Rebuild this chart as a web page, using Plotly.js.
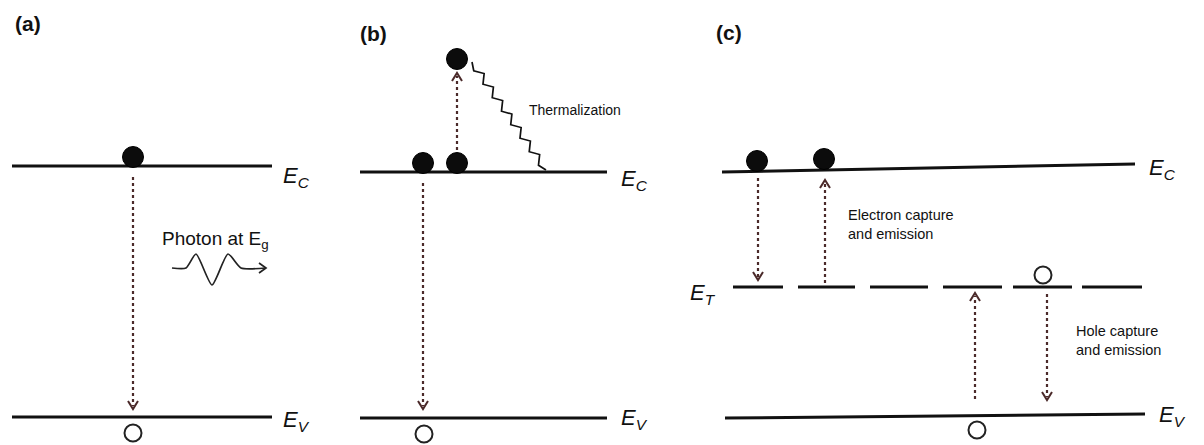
<!DOCTYPE html>
<html>
<head>
<meta charset="utf-8">
<script src="https://cdn.plot.ly/plotly-3.0.1.min.js"></script>
<style>html,body{margin:0;padding:0;background:#fff;}#plot{width:1204px;height:445px;}</style>
</head>
<body>
<div id="plot"></div>
<script>
// ---- Data (diagram coordinates, pixel-like units) ----
// Energy levels: conduction (Ec) and valence (Ev) bands for panels a, b, c
const panelNames = ["(a)", "(b)", "(c)"];
const panelLabelX = [28, 373, 729];
const panelLabelY = [23, 33, 32];

const ecX0 = [12, 360, 722];
const ecX1 = [272, 607, 1135];
const ecY0 = [166, 172, 172];
const ecY1 = [166, 172, 164];

const evX0 = [12, 360, 725];
const evX1 = [272, 607, 1145];
const evY0 = [417, 418, 418];
const evY1 = [417, 418, 414];

// Trap level E_T (panel c), dashed segments
const etX0 = [733, 798, 870, 943, 1013, 1082];
const etX1 = [783, 855, 928, 1002, 1072, 1142];
const etY = 287;

// Electrons (filled) and holes (open)
const electronX = [133, 423, 457, 457, 757, 824];
const electronY = [157, 163, 163, 59, 161, 159];
const holeX = [133, 424, 977, 1043];
const holeY = [433, 434, 430, 275];

// Dotted transition arrows: x, start y, tip y
const arrowX = [133, 423, 457, 758, 825, 975, 1047];
const arrowY0 = [177, 183, 150, 178, 283, 399, 294];
const arrowY1 = [409, 409, 73, 280, 180, 293, 400];

// Thermalization zigzag (panel b)
const zigStart = [472, 62];
const zigEnd = [546, 170];

// Photon wave (panel a)
const photonX = [172, 186, 196, 212, 228, 241, 266];
const photonY = [268, 268, 254, 285, 254, 268, 268];

// Level labels
const levelLabels = ["E<sub>C</sub>", "E<sub>V</sub>", "E<sub>C</sub>", "E<sub>V</sub>", "E<sub>C</sub>", "E<sub>V</sub>", "E<sub>T</sub>"];
const levelLabelX = [296, 296, 634, 634, 1162, 1172, 703];
const levelLabelY = [177, 421, 180, 419, 169, 416, 294];

// Descriptive texts
const noteTexts = ["Photon at E<sub>g</sub>", "Thermalization", "Electron capture<br>and emission", "Hole capture<br>and emission"];
const noteX = [160, 527, 846, 1074];
const noteY = [240, 110, 224, 340];
const noteSize = [19, 14, 14.5, 14.5];

// ---- Build traces ----
const BLACK = "#111";
const DOT = "#4b2a2a";
const traces = [];
const lineTrace = (x, y, color, width, dash, shape, smoothing) => ({
  type: "scatter", mode: "lines", x: x, y: y, hoverinfo: "skip", showlegend: false,
  line: {color: color, width: width, dash: dash || "solid", shape: shape || "linear", smoothing: smoothing === undefined ? 1 : smoothing}
});

for (let i = 0; i < ecX0.length; i++) {
  traces.push(lineTrace([ecX0[i], ecX1[i]], [ecY0[i], ecY1[i]], BLACK, 3));
  traces.push(lineTrace([evX0[i], evX1[i]], [evY0[i], evY1[i]], BLACK, 3));
}
for (let i = 0; i < etX0.length; i++) {
  traces.push(lineTrace([etX0[i], etX1[i]], [etY, etY], BLACK, 3));
}

// dotted arrows with open chevron heads
for (let i = 0; i < arrowX.length; i++) {
  const x = arrowX[i], y0 = arrowY0[i], y1 = arrowY1[i];
  const dir = y1 > y0 ? 1 : -1;
  traces.push(lineTrace([x, x], [y0, y1 - dir * 3], DOT, 2.2, "dot"));
  traces.push(lineTrace([x - 5, x, x + 5], [y1 - dir * 8, y1, y1 - dir * 8], DOT, 2));
}

// zigzag thermalization
(function () {
  const n = 16;
  const dx = zigEnd[0] - zigStart[0], dy = zigEnd[1] - zigStart[1];
  const L = Math.hypot(dx, dy), px = -dy / L, py = dx / L;
  const zx = [zigStart[0]], zy = [zigStart[1]];
  for (let k = 1; k < n; k++) {
    const s = (k % 2 ? 1 : -1) * 3.5;
    zx.push(zigStart[0] + dx * k / n + px * s);
    zy.push(zigStart[1] + dy * k / n + py * s);
  }
  zx.push(zigEnd[0]); zy.push(zigEnd[1]);
  traces.push(lineTrace(zx, zy, BLACK, 1.7));
})();

// photon wave + arrowhead
traces.push(lineTrace(photonX, photonY, "#222", 1.7, "solid", "spline", 0.6));
(function () {
  const tx = photonX[photonX.length - 1], ty = photonY[photonY.length - 1];
  traces.push(lineTrace([tx - 7, tx, tx - 7], [ty - 5, ty, ty + 5], "#222", 1.7));
})();

// electrons and holes
traces.push({type: "scatter", mode: "markers", x: electronX, y: electronY, hoverinfo: "skip", showlegend: false,
  marker: {size: 21, color: "#0c0c0c", line: {color: "#000", width: 1}}});
traces.push({type: "scatter", mode: "markers", x: holeX, y: holeY, hoverinfo: "skip", showlegend: false,
  marker: {size: 17, color: "#fff", symbol: "circle", line: {color: "#222", width: 2}}});

// ---- Annotations ----
const FONT = "Liberation Sans, Arial, Helvetica, sans-serif";
const annotations = [];
for (let i = 0; i < panelNames.length; i++) {
  annotations.push({x: panelLabelX[i], y: panelLabelY[i], xref: "x", yref: "y", text: "<b>" + panelNames[i] + "</b>",
    showarrow: false, font: {family: FONT, size: 21, color: "#111"}});
}
for (let i = 0; i < levelLabels.length; i++) {
  annotations.push({x: levelLabelX[i], y: levelLabelY[i], xref: "x", yref: "y", text: "<i>" + levelLabels[i] + "</i>",
    showarrow: false, font: {family: FONT, size: 22, color: "#111"}});
}
for (let i = 0; i < noteTexts.length; i++) {
  annotations.push({x: noteX[i], y: noteY[i], xref: "x", yref: "y", text: noteTexts[i], xanchor: "left", align: "left",
    showarrow: false, font: {family: FONT, size: noteSize[i], color: "#111"}});
}

const layout = {
  width: 1204, height: 445,
  margin: {l: 0, r: 0, t: 0, b: 0},
  paper_bgcolor: "#fff", plot_bgcolor: "#fff",
  xaxis: {range: [0, 1204], visible: false, fixedrange: true},
  yaxis: {range: [445, 0], visible: false, fixedrange: true},
  showlegend: false,
  annotations: annotations
};

Plotly.newPlot("plot", traces, layout, {staticPlot: true, displayModeBar: false});
</script>
</body>
</html>
